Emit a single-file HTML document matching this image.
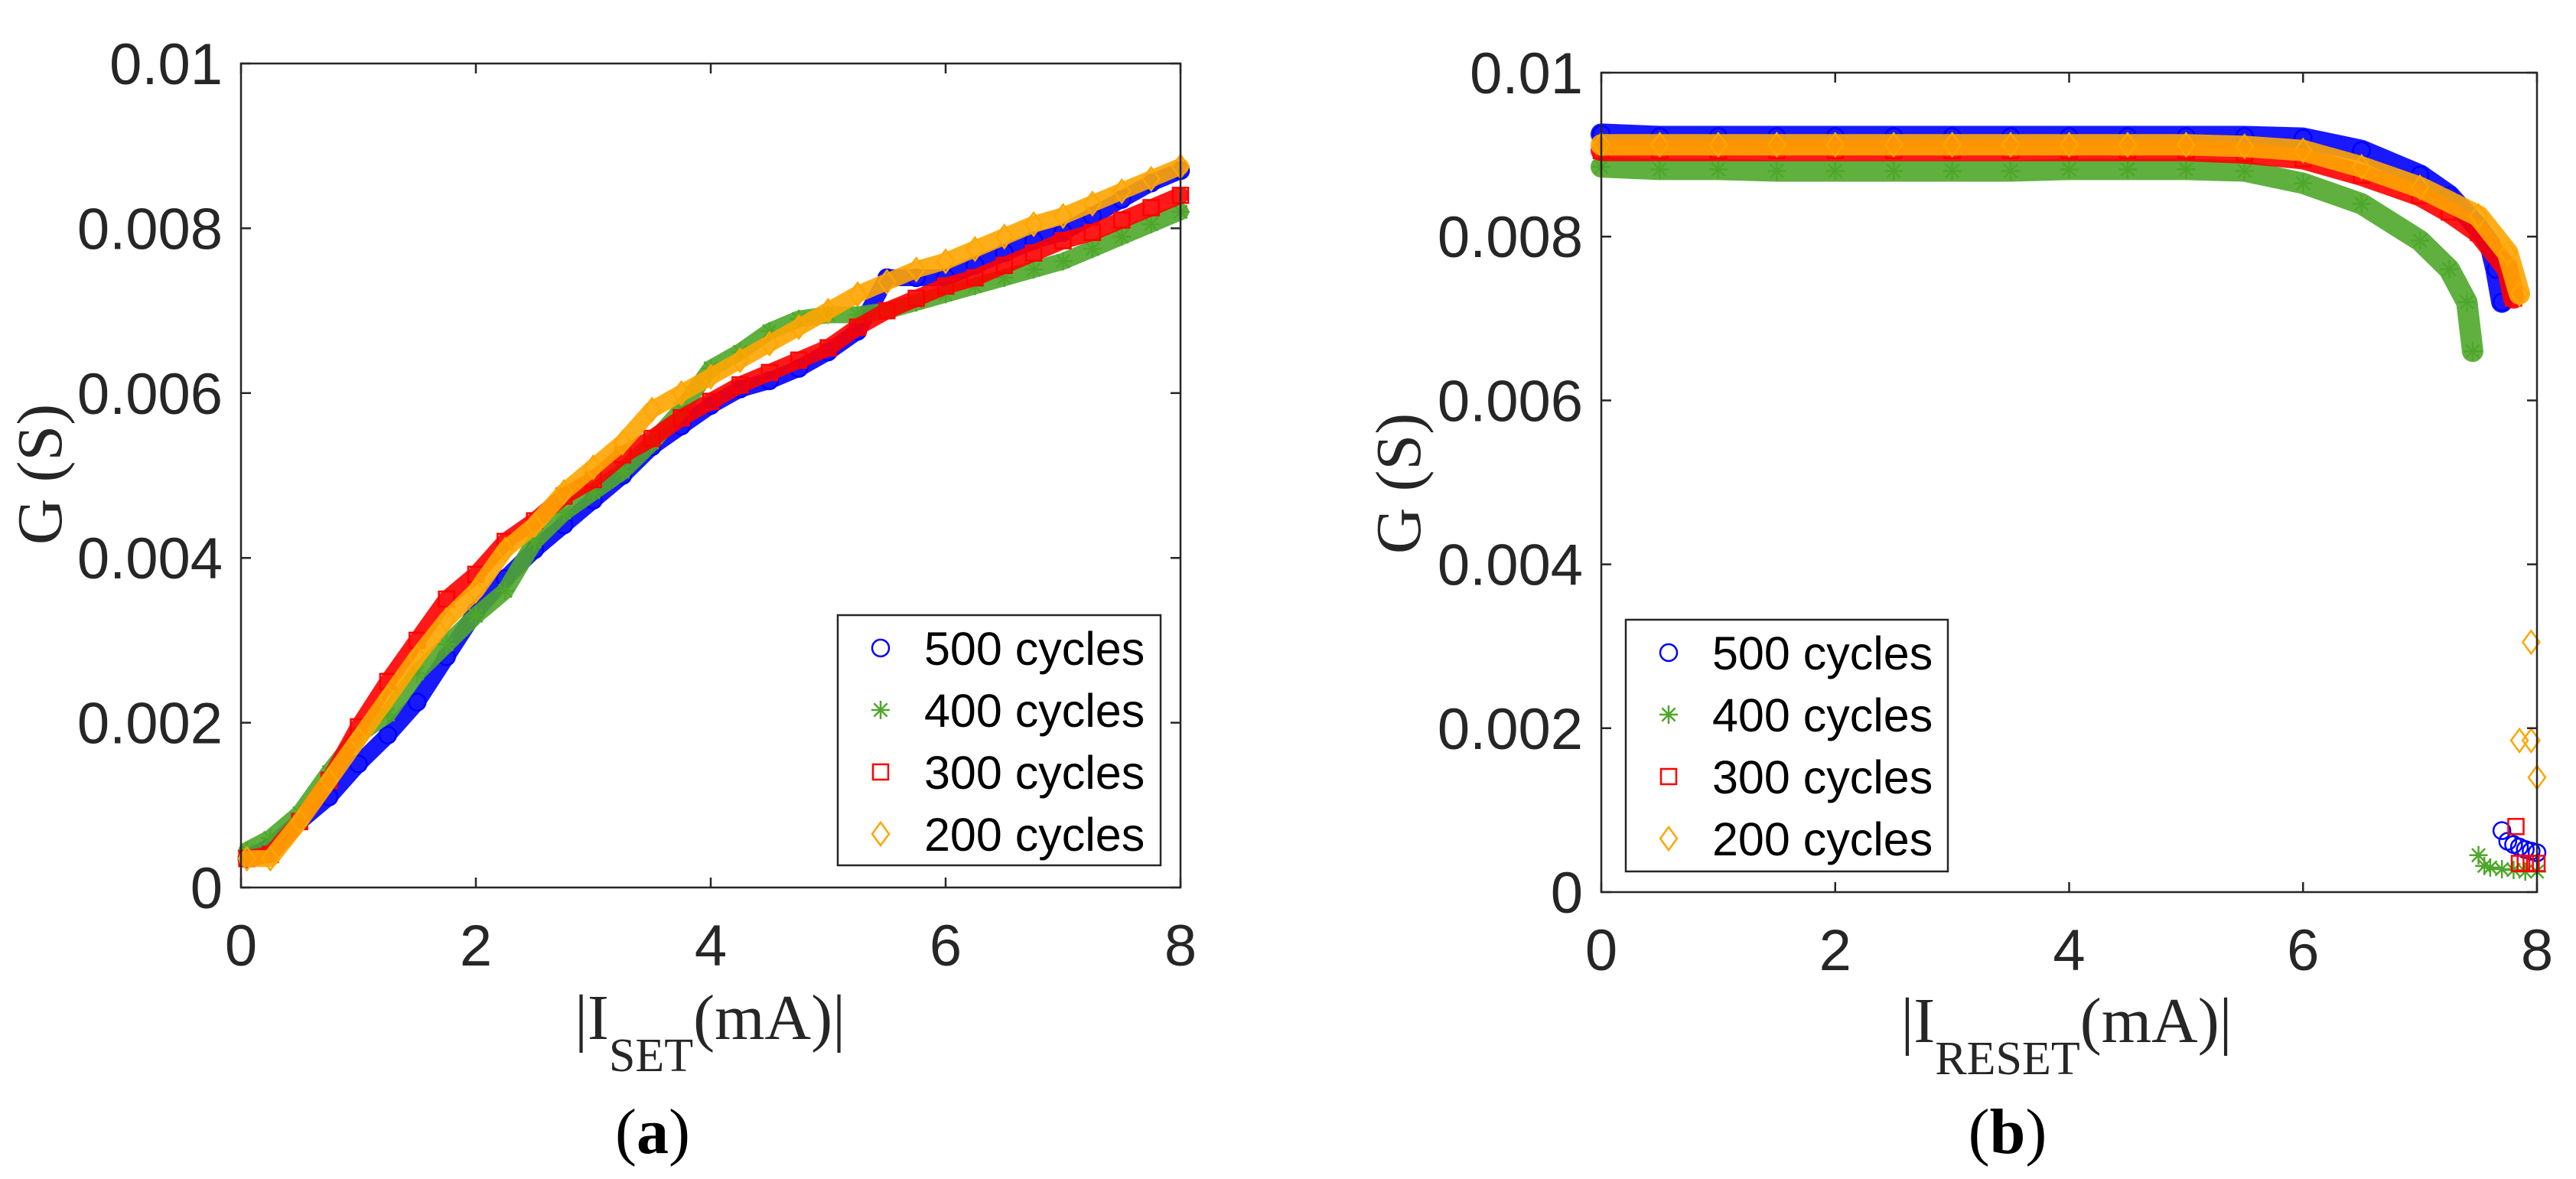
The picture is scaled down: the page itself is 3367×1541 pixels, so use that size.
<!DOCTYPE html>
<html><head><meta charset="utf-8"><style>
html,body{margin:0;padding:0;background:#fff;}
svg{display:block;}
</style></head><body>
<svg id="fig" width="3367" height="1541" viewBox="0 0 3367 1541" xmlns="http://www.w3.org/2000/svg"></svg>
<script>
// ---------- data (G in units of mS i.e. 0.001 S) ----------
const xTicks = [0, 2, 4, 6, 8];
const xTickLabels = ["0", "2", "4", "6", "8"];
const yTicks = [0, 0.002, 0.004, 0.006, 0.008, 0.01];
const yTickLabels = ["0", "0.002", "0.004", "0.006", "0.008", "0.01"];
const seriesNames = ["500 cycles", "400 cycles", "300 cycles", "200 cycles"];

// Panel (a): SET
const setX = [0.05,0.25,0.5,0.75,1,1.25,1.5,1.75,2,2.25,2.5,2.75,3,3.25,3.5,3.75,4,4.25,4.5,4.75,5,5.25,5.5,5.75,6,6.25,6.5,6.75,7,7.25,7.5,7.75,8];
const setG500 = [0.35,0.5,0.8,1.1,1.5,1.85,2.25,2.8,3.35,3.75,4.1,4.4,4.7,5.0,5.35,5.6,5.85,6.05,6.15,6.3,6.5,6.75,7.4,7.4,7.4,7.55,7.7,7.85,7.95,8.15,8.35,8.55,8.7];
const setG400 = [0.45,0.6,0.9,1.4,1.85,2.1,2.6,2.95,3.3,3.6,4.2,4.55,4.8,5.05,5.4,5.8,6.3,6.5,6.75,6.9,6.95,6.95,7.0,7.1,7.2,7.3,7.4,7.5,7.6,7.75,7.9,8.05,8.2];
const setG300 = [0.35,0.4,0.8,1.3,1.95,2.5,3.0,3.5,3.8,4.2,4.45,4.75,4.95,5.25,5.45,5.7,5.9,6.1,6.25,6.4,6.55,6.8,7.0,7.15,7.3,7.4,7.55,7.7,7.85,7.95,8.1,8.25,8.4];
const setG200 = [0.35,0.35,0.8,1.3,1.8,2.3,2.8,3.25,3.6,4.1,4.4,4.8,5.1,5.4,5.8,6.0,6.2,6.4,6.6,6.8,7.0,7.2,7.35,7.5,7.6,7.75,7.9,8.05,8.15,8.3,8.45,8.6,8.75];

// Panel (b): RESET
const resX500 = [0,0.5,1,1.5,2,2.5,3,3.5,4,4.5,5,5.5,6,6.5,7,7.25,7.5,7.6,7.65,7.7];
const resG500 = [9.25,9.22,9.22,9.22,9.22,9.22,9.22,9.22,9.22,9.22,9.22,9.22,9.2,9.05,8.75,8.5,8.1,7.9,7.6,7.2];
const resLowX500 = [7.7,7.75,7.8,7.85,7.9,7.95,8.0];
const resLowG500 = [0.75,0.62,0.58,0.55,0.52,0.5,0.48];
const resX400 = [0,0.5,1,1.5,2,2.5,3,3.5,4,4.5,5,5.5,6,6.5,7,7.25,7.4,7.45];
const resG400 = [8.85,8.82,8.82,8.8,8.8,8.8,8.8,8.8,8.82,8.82,8.82,8.8,8.65,8.4,7.95,7.6,7.2,6.6];
const resLowX400 = [7.5,7.55,7.6,7.7,7.8,7.9,8.0];
const resLowG400 = [0.45,0.32,0.3,0.28,0.27,0.25,0.25];
const resX300 = [0,0.5,1,1.5,2,2.5,3,3.5,4,4.5,5,5.5,6,6.5,7,7.25,7.5,7.75,7.8];
const resG300 = [9.05,9.05,9.05,9.05,9.05,9.05,9.05,9.05,9.05,9.05,9.05,9.02,8.95,8.75,8.5,8.3,8.05,7.6,7.25];
const resLowX300 = [7.82,7.85,7.9,7.95,8.0];
const resLowG300 = [0.8,0.35,0.35,0.35,0.35];
const resX200 = [0,0.5,1,1.5,2,2.5,3,3.5,4,4.5,5,5.5,6,6.5,7,7.5,7.75,7.85];
const resG200 = [9.12,9.12,9.12,9.12,9.12,9.12,9.12,9.12,9.12,9.12,9.12,9.1,9.05,8.85,8.6,8.25,7.8,7.3];
const resLowX200 = [7.95,7.85,7.95,8.0];
const resLowG200 = [3.05,1.85,1.85,1.4];

// ---------- drawing ----------
const NS = "http://www.w3.org/2000/svg";
const svg = document.getElementById("fig");
function mk(tag, attrs, parent){
  const e = document.createElementNS(NS, tag);
  for (const k in attrs) e.setAttribute(k, attrs[k]);
  (parent||svg).appendChild(e);
  return e;
}
const colors = ["#0000ff", "#4ea72a", "#ff0000", "#ffa500"];
const kinds = ["circle", "star", "square", "diamond"];

function marker(g, kind, cx, cy, col, s){
  s = s || 1;
  let m;
  if (kind === "circle") {
    m = mk("circle", {cx: cx, cy: cy, r: 11*s, fill: "none", stroke: col, "stroke-width": 2.5}, g);
  } else if (kind === "square") {
    m = mk("rect", {x: cx-10*s, y: cy-10*s, width: 20*s, height: 20*s, fill: "none", stroke: col, "stroke-width": 2.5}, g);
  } else if (kind === "diamond") {
    m = mk("path", {d: `M${cx} ${cy-15*s}L${cx+11*s} ${cy}L${cx} ${cy+15*s}L${cx-11*s} ${cy}Z`, fill: "none", stroke: col, "stroke-width": 2.5}, g);
  } else {
    const r = 12*s;
    let d = `M${cx-r} ${cy}H${cx+r}M${cx} ${cy-r}V${cy+r}`;
    const q = r*0.72;
    d += `M${cx-q} ${cy-q}L${cx+q} ${cy+q}M${cx-q} ${cy+q}L${cx+q} ${cy-q}`;
    m = mk("path", {d: d, fill: "none", stroke: col, "stroke-width": 2.5}, g);
  }
  return m;
}

function panel(cfg){
  const {L, R, T, B, id} = cfg;
  const sx = v => L + (v/8)*(R-L);
  const sy = v => B - (v/0.01)*(B-T);
  const g = mk("g", {});
  
  

  cfg.series.forEach((s, i) => {
    const sg = mk("g", {}, g);
    
    
    s.forEach(part => {
      const pts = part.x.map((x, k) => [sx(x), sy(part.g[k]/1000)]);
      if (part.band && pts.length > 1) {
        const pl = mk("polyline", {points: pts.map(p => p.join(",")).join(" "), fill: "none", stroke: colors[i], "stroke-width": cfg.bandW, "stroke-linejoin": "round", "stroke-linecap": "round", "stroke-opacity": 0.9}, sg);
        
        
      }
      pts.forEach(p => {
        const m = marker(sg, kinds[i], p[0], p[1], colors[i]);
        
        
      });
    });
  });

  const box = mk("rect", {x: L, y: T, width: R-L, height: B-T, fill: "none", stroke: "#262626", "stroke-width": 2.5}, g);
  
  

  xTicks.forEach((v, i) => {
    const x = sx(v);
    mk("path", {d: `M${x} ${B}V${B-13}M${x} ${T}V${T+13}`, stroke: "#262626", "stroke-width": 2.5}, g);
    const t = mk("text", {x: x, y: B+102, "text-anchor": "middle", "font-family": "Liberation Sans, sans-serif", "font-size": 76, fill: "#262626"}, g);
    t.textContent = xTickLabels[i];
    
    
  });
  yTicks.forEach((v, i) => {
    const y = sy(v);
    mk("path", {d: `M${L} ${y}H${L+13}M${R} ${y}H${R-13}`, stroke: "#262626", "stroke-width": 2.5}, g);
    const t = mk("text", {x: L-24, y: y+27, "text-anchor": "end", "font-family": "Liberation Sans, sans-serif", "font-size": 76, fill: "#262626"}, g);
    t.textContent = yTickLabels[i];
    
    
  });

  const lg = mk("g", {}, g);
  
  
  const lb = cfg.legend;
  mk("rect", {x: lb.x, y: lb.y, width: lb.w, height: lb.h, fill: "#fff", stroke: "#262626", "stroke-width": 2.5}, lg);
  seriesNames.forEach((n, i) => {
    const cy = lb.y + 43 + i*81;
    const e = mk("g", {}, lg);
    
    
    marker(e, kinds[i], lb.x + 56, cy, colors[i]);
    const t = mk("text", {x: lb.x + 113, y: cy + 22, "font-family": "Liberation Sans, sans-serif", "font-size": 61, fill: "#000"}, e);
    t.textContent = n;
  });
}

panel({id: "set", L: 315, R: 1543, T: 83, B: 1160, bandW: 22,
  legend: {x: 1095, y: 804, w: 422, h: 327},
  series: [
    [{x: setX, g: setG500, band: true}],
    [{x: setX, g: setG400, band: true}],
    [{x: setX, g: setG300, band: true}],
    [{x: setX, g: setG200, band: true}]
  ]});
panel({id: "reset", L: 2093, R: 3316, T: 95, B: 1166, bandW: 28,
  legend: {x: 2125, y: 810, w: 421, h: 329},
  series: [
    [{x: resX500, g: resG500, band: true}, {x: resLowX500, g: resLowG500, band: false}],
    [{x: resX400, g: resG400, band: true}, {x: resLowX400, g: resLowG400, band: false}],
    [{x: resX300, g: resG300, band: true}, {x: resLowX300, g: resLowG300, band: false}],
    [{x: resX200, g: resG200, band: true}, {x: resLowX200, g: resLowG200, band: false}]
  ]});
</script>
<script>
(function(){
  const svg = document.getElementById("fig");
  svg.insertAdjacentHTML("beforeend", `
  <text transform="translate(80,620) rotate(-90)" text-anchor="middle" font-family="Liberation Serif, serif" font-size="84" fill="#262626">G (S)</text>
  <text transform="translate(1856,632) rotate(-90)" text-anchor="middle" font-family="Liberation Serif, serif" font-size="84" fill="#262626">G (S)</text>
  <text x="928" y="1358" text-anchor="middle" font-family="Liberation Serif, serif" font-size="84" fill="#262626">|I<tspan font-size="62" dy="42">SET</tspan><tspan dy="-42">(mA)|</tspan></text>
  <text x="2701" y="1362" text-anchor="middle" font-family="Liberation Serif, serif" font-size="84" fill="#262626">|I<tspan font-size="62" dy="42">RESET</tspan><tspan dy="-42">(mA)|</tspan></text>
  <text x="853" y="1507" text-anchor="middle" font-family="Liberation Serif, serif" font-size="84" fill="#000">(<tspan font-weight="bold">a</tspan>)</text>
  <text x="2624" y="1507" text-anchor="middle" font-family="Liberation Serif, serif" font-size="84" fill="#000">(<tspan font-weight="bold">b</tspan>)</text>
  `);
})();
</script>
</body></html>
